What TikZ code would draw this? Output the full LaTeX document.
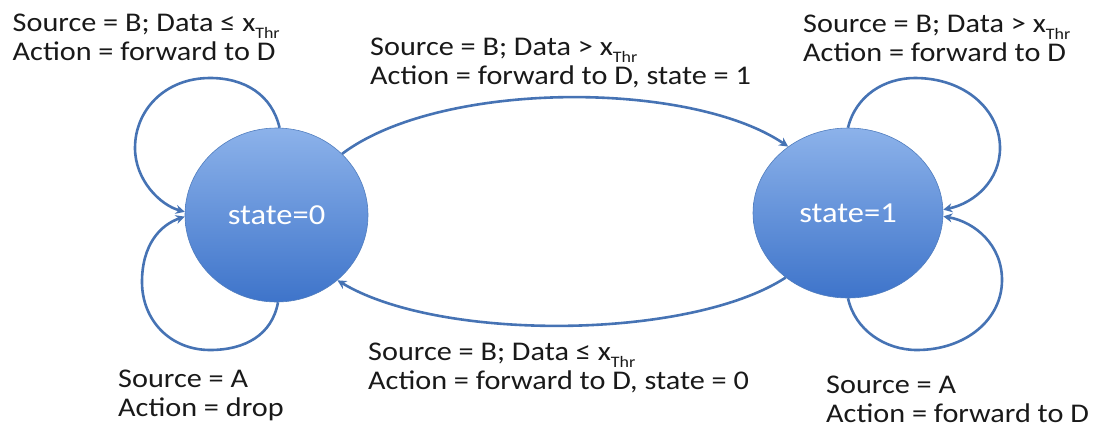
\documentclass[tikz,border=0pt]{standalone}
\usepackage{fontspec}
\setmainfont{Carlito}[FakeStretch=1.12]
\usetikzlibrary{arrows.meta,shapes.geometric}
\definecolor{lineblue}{RGB}{70,115,180}
\definecolor{topblue}{RGB}{140,178,234}
\definecolor{botblue}{RGB}{62,116,202}
\definecolor{edgeblue}{RGB}{80,125,190}
\definecolor{txt}{RGB}{25,25,25}
\newcommand{\thr}{x\raisebox{-7pt}{\fontsize{16}{16}\selectfont Thr}}
\tikzset{
  statenode/.style={ellipse, inner sep=0pt, top color=topblue, bottom color=botblue,
    draw=edgeblue, line width=0.6pt, text=white, font=\fontsize{29}{29}\selectfont},
  arr/.style={draw=lineblue, line width=2.6pt, -{Stealth[length=9pt,width=9pt]}},
  lbl/.style={anchor=base west, inner sep=0pt, align=left, text=txt,
    font=\fontsize{27}{29}\selectfont}
}
\begin{document}
\begin{tikzpicture}[x={(1pt,0pt)}, y={(0pt,-1pt)}]
\useasboundingbox (0,0) rectangle (1097,437);
\node[statenode, minimum width=183pt, minimum height=174pt] (s0) at (276.5,215) {state=0};
\node[statenode, minimum width=190pt, minimum height=170pt] (s1) at (848,213) {state=1};

% labels (anchor = baseline of the last line)
\node[lbl] (tl) at (12.5,60) {Source = B; Data ≤ \thr\\Action = forward to D};
\node[lbl] (tm) at (370,84) {Source = B; Data > \thr\\Action = forward to D, state = 1};
\node[lbl] (tr) at (803,61) {Source = B; Data > \thr\\Action = forward to D};
\node[lbl] (bl) at (118,416) {Source = A\\Action = drop};
\node[lbl] (bm) at (368,389) {Source = B; Data ≤ \thr\\Action = forward to D, state = 0};
\node[lbl] (br) at (826,422) {Source = A\\Action = forward to D};

% self loops on state 0
\draw[arr] (s0.88) .. controls (272,95) and (245,78) .. (210,78)
  .. controls (165,78) and (135,110) .. (135,148)
  .. controls (135,180) and (160,205) .. (s0.178);
\draw[arr] (s0.271) .. controls (272,335) and (245,350) .. (210,350)
  .. controls (170,350) and (142,320) .. (142,282)
  .. controls (142,245) and (160,225) .. (s0.181);

% self loops on state 1
\draw[arr] (s1.90) .. controls (856,95) and (885,78) .. (915,78)
  .. controls (965,78) and (1000,110) .. (1000,148)
  .. controls (1000,180) and (975,203) .. (s1.2);
\draw[arr] (s1.270) .. controls (855,330) and (885,350) .. (917,350)
  .. controls (965,350) and (1002,320) .. (1002,280)
  .. controls (1002,245) and (975,222) .. (s1.358);

% transitions
\draw[arr] (s0.43) .. controls (440,80) and (690,80) .. (s1.132);
\draw[arr] (s1.226) .. controls (690,340) and (440,342) .. (s0.-47);
\end{tikzpicture}
\end{document}
